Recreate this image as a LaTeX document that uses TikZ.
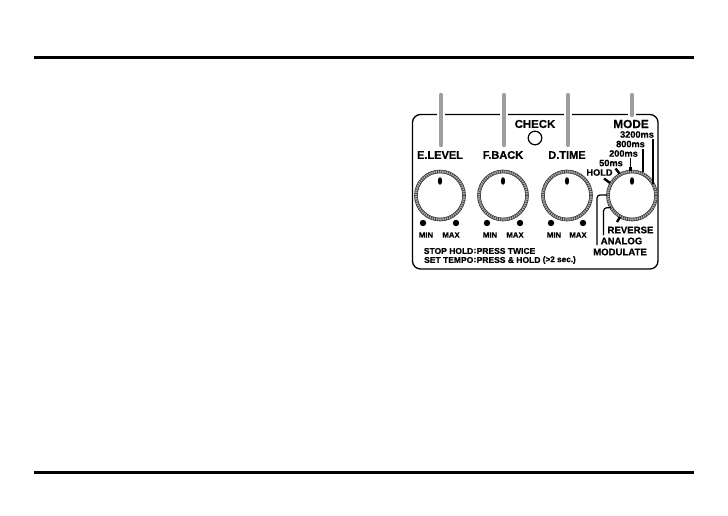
\documentclass[tikz,border=0pt]{standalone}
\usepackage{fontspec}
\setmainfont[BoldFeatures={FakeBold=0.6}]{Liberation Sans}
\begin{document}
\begin{tikzpicture}[x=1pt,y=-1pt,
 big/.style={font=\fontsize{11}{11}\selectfont\bfseries,inner sep=0pt},
 chk/.style={font=\fontsize{11.4}{11.4}\selectfont\bfseries,inner sep=0pt},
 modelab/.style={font=\fontsize{11.8}{11.8}\selectfont\bfseries,inner sep=0pt},
 sm/.style={font=\fontsize{9.2}{9.2}\selectfont\bfseries,inner sep=0pt},
 lg/.style={font=\fontsize{9.6}{9.6}\selectfont\bfseries,inner sep=0pt},
 tiny/.style={font=\fontsize{7.8}{7.8}\selectfont\bfseries,inner sep=0pt},
 note/.style={font=\fontsize{8.5}{8.5}\selectfont\bfseries,inner sep=0pt},
 rule/.style={line width=3.6pt,black},
 bar/.style={line width=4.4pt,color=black!38,line cap=round},
 thin/.style={line width=1.2pt,black},
 lead/.style={line width=1.2pt,black,rounded corners=3pt},
 tick/.style={line width=2.4pt,black},
 dotm/.style={circle,fill=black,inner sep=0pt,minimum size=6.4pt},
]
\useasboundingbox (0,0) rectangle (728,516);
\fill[white] (0,0) rectangle (728,516);
\coordinate (r1a) at (34,57.5); \coordinate (r1b) at (694,57.5);
\coordinate (r2a) at (34,472.5); \coordinate (r2b) at (694,472.5);
\draw[rule] (r1a)--(r1b);
\draw[rule] (r2a)--(r2b);
% panel
\draw[line width=1.3pt,rounded corners=8pt] (412.5,269) -- (412.5,114.5) -- (658,114.5) -- (658,269) -- cycle;
% bars
\foreach \x/\e in {441/145,504/145,568/145,632/115}{
 \draw[white,line width=8pt] (\x,112)--(\x,117);
 \draw[bar] (\x,95)--(\x,\e);
}
% knobs
\foreach \n/\x in {a/440,b/503,c/567,d/632}{
 \coordinate (k\n) at (\x,195.5);
 \draw[black!30,line width=3.4pt] (k\n) circle (24);
 \draw[black!75,line width=.6pt] (k\n) circle (25.5);
 \draw[black!75,line width=.6pt] (k\n) circle (22.6);
 \draw[black!75,line width=3pt,dash pattern=on .7pt off 1.5pt] (k\n) circle (24);
 \fill[black] (\x,181) ellipse (2.1 and 3.8);
}
\draw[thin] (535,138) circle (6.8);
% knob labels
\node[big] (ne) at (440,155) {E.LEVEL};
\node[big] (nf) at (503,155) {F.BACK};
\node[big] (nd) at (567,155) {D.TIME};
\node[modelab] (nm) at (631,124) {MODE};
\node[chk] (nc) at (535,124) {CHECK};
% min max
\foreach \n/\a/\b in {a/423/456,b/487/520,c/551/583}{
 \node[dotm] (dl\n) at (\a,223) {};
 \node[dotm] (dr\n) at (\b,223) {};
 \node[tiny] (mi\n) at (\a+3,235) {MIN};
 \node[tiny] (ma\n) at (\b-5,235) {MAX};
}
% mode labels
\node[sm] (m1) at (637,134.5) {3200ms};
\node[sm] (m2) at (630.5,144) {800ms};
\node[sm] (m3) at (623.5,153.5) {200ms};
\node[sm] (m4) at (611,163) {50ms};
\node[sm] (m5) at (599.5,172.5) {HOLD};
\node[lg] (m6) at (630.5,230) {REVERSE};
\node[lg] (m7) at (621.5,241) {ANALOG};
\node[lg] (m8) at (620,252) {MODULATE};
% leaders
\coordinate (t1) at (653,184); \coordinate (t2) at (643,172); \coordinate (t3) at (630.5,171);
\draw[thin] (653,139) -- (t1);
\draw[thin] (643,149) -- (t2);
\draw[thin] (630.5,158) -- (t3);
\draw[tick] (630.5,167) -- (t3);
\draw[tick] (643,168.5) -- (t2);
\draw[tick] (615.5,168.5) -- (619.5,173.5);
\draw[tick] (604,178.5) -- (610,183);
\coordinate (u1) at (607,195); \coordinate (u2) at (611,207.5); \coordinate (u3) at (620,217);
\draw[lead] (597,245) -- (597,195) -- (u1);
\draw[lead] (603.5,235) -- (603.5,208) -- (u2);
\draw[tick] (617,222) -- (u3);
% notes
\node[note,anchor=east] (s1) at (473.5,251) {STOP HOLD};
\node[note] (s1c) at (475,251) {:};
\node[note,anchor=west] (s1b) at (476.5,251) {PRESS TWICE};
\node[note,anchor=east] (s2) at (473.5,260) {SET TEMPO};
\node[note] (s2c) at (475,260) {:};
\node[note,anchor=west] (s2b) at (476.5,260) {PRESS \& HOLD};
\node[note,anchor=east,font=\fontsize{8.2}{8.2}\selectfont\bfseries] (s2d) at (576,260) {(>2 sec.)};
\end{tikzpicture}
\end{document}
